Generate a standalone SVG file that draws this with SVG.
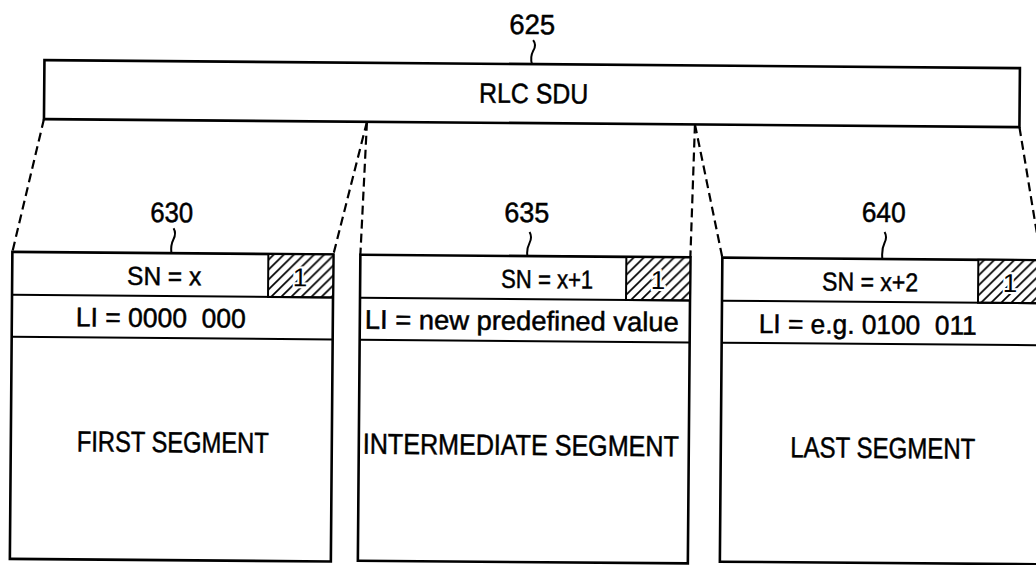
<svg xmlns="http://www.w3.org/2000/svg" width="1036" height="565" viewBox="0 0 1036 565">
<style>
.box{fill:#fff;stroke:#000;stroke-width:2.6}
.div{stroke:#000;stroke-width:2;fill:none}
.hatch{fill:url(#hatch);stroke:#000;stroke-width:2}
.t{font-family:"Liberation Sans",Arial,sans-serif;fill:#000;text-anchor:middle;stroke:#000;stroke-width:0.5}
.lab{font-size:28px}
.sn{font-size:26px}
.li{font-size:27px}
.seg{font-size:29px}
.one{font-size:26px;stroke:#fff;stroke-width:4;paint-order:stroke}
.lead{fill:none;stroke:#000;stroke-width:2}
.dash{fill:none;stroke:#000;stroke-width:2.2;stroke-dasharray:9 5}
</style>
<defs>
<pattern id="hatch" patternUnits="userSpaceOnUse" width="10" height="10">
<rect width="10" height="10" fill="#fff"/>
<path d="M-2,2 l4,-4 M0,10 l10,-10 M8,12 l4,-4" stroke="#000" stroke-width="1.7"/>
</pattern>
</defs>
<rect width="1036" height="565" fill="#fff"/>
<g transform="rotate(0.47 518 300)">
<g id="connectors">
<line class="dash" x1="42.5" y1="123" x2="12" y2="256"/>
<line class="dash" x1="365.5" y1="123" x2="333" y2="256"/>
<line class="dash" x1="365.5" y1="123" x2="360" y2="256"/>
<line class="dash" x1="693.5" y1="123" x2="690" y2="256"/>
<line class="dash" x1="693.5" y1="123" x2="722" y2="256"/>
<line class="dash" x1="1018" y1="123" x2="1041" y2="256"/>
</g>
<g id="rlc-sdu">
<rect class="box" x="42.5" y="64" width="975.5" height="59"/>
<text class="t lab" x="532" y="103" textLength="109" lengthAdjust="spacingAndGlyphs">RLC SDU</text>
<path class="lead" d="M531,40 q4,5 0,11 q-3,6 -1,13"/>
<text class="t lab" x="530" y="34" textLength="46" lengthAdjust="spacingAndGlyphs">625</text>
</g>
<g id="segment-630">
<rect class="box" x="12" y="256" width="321" height="307"/>
<rect class="hatch" x="268" y="256" width="65" height="43"/>
<line class="div" x1="12" y1="299" x2="333" y2="299"/>
<line class="div" x1="12" y1="341" x2="333" y2="341"/>
<text class="t sn" x="164" y="288" textLength="74" lengthAdjust="spacingAndGlyphs">SN = x</text>
<text class="t one" x="300" y="288">1</text>
<text class="t li" x="161" y="330" textLength="170" lengthAdjust="spacingAndGlyphs">LI = 0000&#160;&#160;000</text>
<text class="t seg" x="174" y="455" textLength="192" lengthAdjust="spacingAndGlyphs">FIRST SEGMENT</text>
<path class="lead" d="M173,231 q3,5 0,11 q-3,6 -2,14"/>
<text class="t lab" x="171" y="225" textLength="43" lengthAdjust="spacingAndGlyphs">630</text>
</g>
<g id="segment-635">
<rect class="box" x="360" y="256" width="330" height="306"/>
<rect class="hatch" x="626" y="256" width="64" height="43"/>
<line class="div" x1="360" y1="299" x2="690" y2="299"/>
<line class="div" x1="360" y1="341" x2="690" y2="341"/>
<text class="t sn" x="547" y="288" textLength="92" lengthAdjust="spacingAndGlyphs">SN = x+1</text>
<text class="t one" x="658" y="288">1</text>
<text class="t li" x="522" y="330" textLength="314" lengthAdjust="spacingAndGlyphs">LI = new predefined value</text>
<text class="t seg" x="522" y="455" textLength="316" lengthAdjust="spacingAndGlyphs">INTERMEDIATE SEGMENT</text>
<path class="lead" d="M529,232 q3,5 0,11 q-3,6 -2,13"/>
<text class="t lab" x="526" y="222" textLength="45" lengthAdjust="spacingAndGlyphs">635</text>
</g>
<g id="segment-640">
<rect class="box" x="722" y="256" width="330" height="304"/>
<rect class="hatch" x="978" y="256" width="74" height="43"/>
<line class="div" x1="722" y1="299" x2="1052" y2="299"/>
<line class="div" x1="722" y1="341" x2="1052" y2="341"/>
<text class="t sn" x="870" y="288" textLength="96" lengthAdjust="spacingAndGlyphs">SN = x+2</text>
<text class="t one" x="1010" y="288">1</text>
<text class="t li" x="868" y="331" textLength="218" lengthAdjust="spacingAndGlyphs">LI = e.g. 0100&#160;&#160;011</text>
<text class="t seg" x="884" y="455" textLength="185" lengthAdjust="spacingAndGlyphs">LAST SEGMENT</text>
<path class="lead" d="M884,229 q3,5 0,11 q-3,6 -2,16"/>
<text class="t lab" x="883" y="219" textLength="44" lengthAdjust="spacingAndGlyphs">640</text>
</g>
</g>
</svg>
